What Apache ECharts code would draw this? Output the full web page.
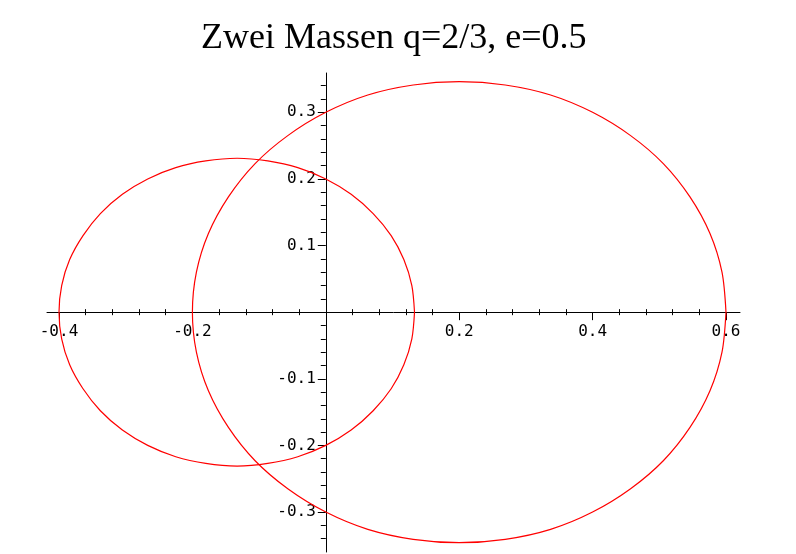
<!DOCTYPE html>
<html>
<head>
<meta charset="utf-8">
<script src="https://cdn.jsdelivr.net/npm/echarts@6/dist/echarts.min.js"></script>
<style>
  html, body { margin: 0; padding: 0; background: #ffffff; }
  #chart { width: 796px; height: 554px; }
</style>
</head>
<body>
<div id="chart"></div>
<script>
// Orbit of the heavier mass (smaller ellipse) and the lighter mass (larger ellipse)
const largeOrbitX = [0.600, 0.594, 0.576, 0.546, 0.506, 0.457, 0.400, 0.337, 0.269, 0.200,
  0.131, 0.063, 0.000, -0.057, -0.106, -0.146, -0.176, -0.194, -0.200,
  -0.194, -0.176, -0.146, -0.106, -0.057, 0.000, 0.063, 0.131, 0.200,
  0.269, 0.337, 0.400, 0.457, 0.506, 0.546, 0.576, 0.594, 0.600];
const largeOrbitY = [0.000, 0.060, 0.118, 0.173, 0.223, 0.265, 0.300, 0.326, 0.341, 0.346,
  0.341, 0.326, 0.300, 0.265, 0.223, 0.173, 0.118, 0.060, 0.000,
  -0.060, -0.118, -0.173, -0.223, -0.265, -0.300, -0.326, -0.341, -0.346,
  -0.341, -0.326, -0.300, -0.265, -0.223, -0.173, -0.118, -0.060, 0.000];

const smallOrbitX = [0.133, 0.129, 0.117, 0.098, 0.071, 0.038, 0.000, -0.042, -0.087, -0.133,
  -0.180, -0.225, -0.267, -0.305, -0.338, -0.364, -0.384, -0.396, -0.400,
  -0.396, -0.384, -0.364, -0.338, -0.305, -0.267, -0.225, -0.180, -0.133,
  -0.087, -0.042, 0.000, 0.038, 0.071, 0.098, 0.117, 0.129, 0.133];
const smallOrbitY = [0.000, 0.040, 0.079, 0.115, 0.148, 0.177, 0.200, 0.217, 0.227, 0.231,
  0.227, 0.217, 0.200, 0.177, 0.148, 0.115, 0.079, 0.040, 0.000,
  -0.040, -0.079, -0.115, -0.148, -0.177, -0.200, -0.217, -0.227, -0.231,
  -0.227, -0.217, -0.200, -0.177, -0.148, -0.115, -0.079, -0.040, 0.000];

// Tick marks
const xMajorTicks = [-0.4, -0.2, 0.2, 0.4, 0.6];
const xMinorTicks = [-0.36, -0.32, -0.28, -0.24, -0.16, -0.12, -0.08, -0.04,
  0.04, 0.08, 0.12, 0.16, 0.24, 0.28, 0.32, 0.36, 0.44, 0.48, 0.52, 0.56];
const yMajorTicks = [-0.3, -0.2, -0.1, 0.1, 0.2, 0.3];
const yMinorTicks = [0.34, 0.32, 0.28, 0.26, 0.24, 0.22, 0.18, 0.16, 0.14, 0.12,
  0.08, 0.06, 0.04, 0.02, -0.02, -0.04, -0.06, -0.08, -0.12, -0.14, -0.16, -0.18,
  -0.22, -0.24, -0.26, -0.28, -0.32, -0.34];

const titleText = 'Zwei Massen q=2/3, e=0.5';

const X_MIN = -0.418, X_MAX = 0.621;
const Y_MIN = -0.36, Y_MAX = 0.359;

const GRID = { left: 47, top: 73, width: 693, height: 479 };

// distance of the zero lines from the grid edges, used to move the labelled axes onto them
const xZeroFromLeft = GRID.width * (0 - X_MIN) / (X_MAX - X_MIN);
const yZeroFromBottom = GRID.height * (0 - Y_MIN) / (Y_MAX - Y_MIN);

function pairs(xs, ys) {
  return xs.map((x, i) => [x, ys[i]]);
}

const black = '#000000';
const labelFont = {
  fontFamily: 'DejaVu Sans Mono',
  fontSize: 16,
  color: black
};

function xAxisBase(position, extra) {
  return Object.assign({
    type: 'value',
    position: position,
    min: X_MIN,
    max: X_MAX,
    splitLine: { show: false },
    axisLine: { show: false, onZero: true, onZeroAxisIndex: 0 },
    axisLabel: { show: false },
    axisTick: { show: false }
  }, extra);
}

function yAxisBase(position, extra) {
  return Object.assign({
    type: 'value',
    position: position,
    min: Y_MIN,
    max: Y_MAX,
    splitLine: { show: false },
    axisLine: { show: false, onZero: true, onZeroAxisIndex: 0 },
    axisLabel: { show: false },
    axisTick: { show: false }
  }, extra);
}

const chart = echarts.init(document.getElementById('chart'), null, { renderer: 'canvas' });

chart.setOption({
  animation: false,
  backgroundColor: '#ffffff',
  title: {
    text: titleText,
    left: 196,
    top: 16,
    textStyle: {
      fontFamily: 'Liberation Serif',
      fontWeight: 'normal',
      fontSize: 36,
      color: black
    }
  },
  grid: Object.assign({ containLabel: false, outerBoundsMode: 'none' }, GRID),
  xAxis: [
    // main axis through y = 0: line, long ticks below the labelled values, labels
    xAxisBase('bottom', {
      offset: -yZeroFromBottom,
      axisLine: { show: true, onZero: false, lineStyle: { color: black, width: 1 } },
      axisTick: { show: true, customValues: xMajorTicks, length: 8, inside: false, lineStyle: { color: black, width: 1 } },
      axisLabel: {
        show: true, customValues: xMajorTicks, margin: 12,
        formatter: v => String(v), ...labelFont
      }
    }),
    // short ticks crossing the axis: upper half
    xAxisBase('top', {
      axisTick: { show: true, customValues: xMinorTicks, length: 3, inside: false, lineStyle: { color: black, width: 1 } }
    }),
    // short ticks crossing the axis: lower half
    xAxisBase('top', {
      axisTick: { show: true, customValues: xMinorTicks, length: 3, inside: true, lineStyle: { color: black, width: 1 } }
    })
  ],
  yAxis: [
    // main axis through x = 0
    yAxisBase('left', {
      offset: -xZeroFromLeft,
      axisLine: { show: true, onZero: false, lineStyle: { color: black, width: 1 } },
      axisTick: { show: true, customValues: yMajorTicks, length: 8, inside: false, lineStyle: { color: black, width: 1 } },
      axisLabel: {
        show: true, customValues: yMajorTicks, margin: 10,
        padding: [4, 0, 0, 0],
        formatter: v => String(v), ...labelFont
      }
    }),
    // short ticks pointing left
    yAxisBase('right', {
      axisTick: { show: true, customValues: yMinorTicks, length: 5, inside: true, lineStyle: { color: black, width: 1 } }
    })
  ],
  series: [
    {
      name: 'Masse 1',
      type: 'line',
      xAxisIndex: 0,
      yAxisIndex: 0,
      data: pairs(smallOrbitX, smallOrbitY),
      showSymbol: false,
      symbol: 'none',
      smooth: 0.3,
      lineStyle: { color: '#ff0000', width: 1.2 },
      z: 1
    },
    {
      name: 'Masse 2',
      type: 'line',
      xAxisIndex: 0,
      yAxisIndex: 0,
      data: pairs(largeOrbitX, largeOrbitY),
      showSymbol: false,
      symbol: 'none',
      smooth: 0.3,
      lineStyle: { color: '#ff0000', width: 1.2 },
      z: 1
    }
  ]
});
</script>
</body>
</html>
